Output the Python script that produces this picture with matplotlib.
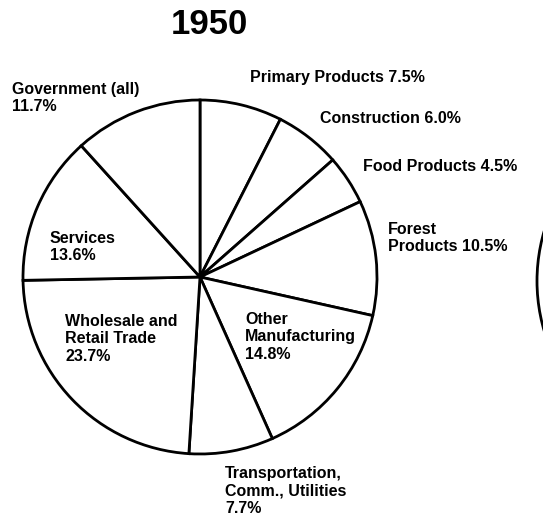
import matplotlib
matplotlib.use("Agg")
import matplotlib.pyplot as plt
from matplotlib.patches import Circle

# ---- data ----
title = "1950"
categories = ["Primary Products", "Construction", "Food Products", "Forest\nProducts",
              "Other\nManufacturing", "Transportation,\nComm., Utilities",
              "Wholesale and\nRetail Trade", "Services", "Government (all)"]
values = [7.5, 6.0, 4.5, 10.5, 14.8, 7.7, 23.7, 13.6, 11.7]
separators = [" ", " ", " ", " ", "\n", "\n", "\n", "\n", "\n"]

# label anchor positions (pixels from top-left), left aligned, top of text
label_pos = [(250, 70), (320, 111), (363, 159), (388, 222),
             (245, 312), (225, 466), (65, 314), (50, 231), (12, 82)]

W, H = 543, 518
fig = plt.figure(figsize=(W / 100, H / 100), dpi=100)
ax = fig.add_axes([0, 0, 1, 1])
ax.set_xlim(0, W)
ax.set_ylim(0, H)
ax.axis("off")

cx, cy, r = 200, H - 277, 177
ax.pie(values, startangle=90, counterclock=False, center=(cx, cy), radius=r,
       colors=["white"] * len(values),
       wedgeprops=dict(edgecolor="black", linewidth=2.0))
ax.set_xlim(0, W)
ax.set_ylim(0, H)
ax.set_aspect("auto")

# partial neighbouring pie at the right edge
ax.add_patch(Circle((537 + r, H - 281), r, facecolor="none", edgecolor="black",
                    linewidth=2.0))

font = ["Liberation Sans", "DejaVu Sans"]
ax.text(209, H - 24, title, ha="center", va="center", fontsize=25,
        fontweight="bold", family=font)

for name, v, sep, (x, y) in zip(categories, values, separators, label_pos):
    ax.text(x, H - y, f"{name}{sep}{v:.1f}%", ha="left", va="top",
            fontsize=11.5, fontweight="bold", family=font, linespacing=1.2)

fig.savefig("out.png", dpi=100, facecolor="white")
